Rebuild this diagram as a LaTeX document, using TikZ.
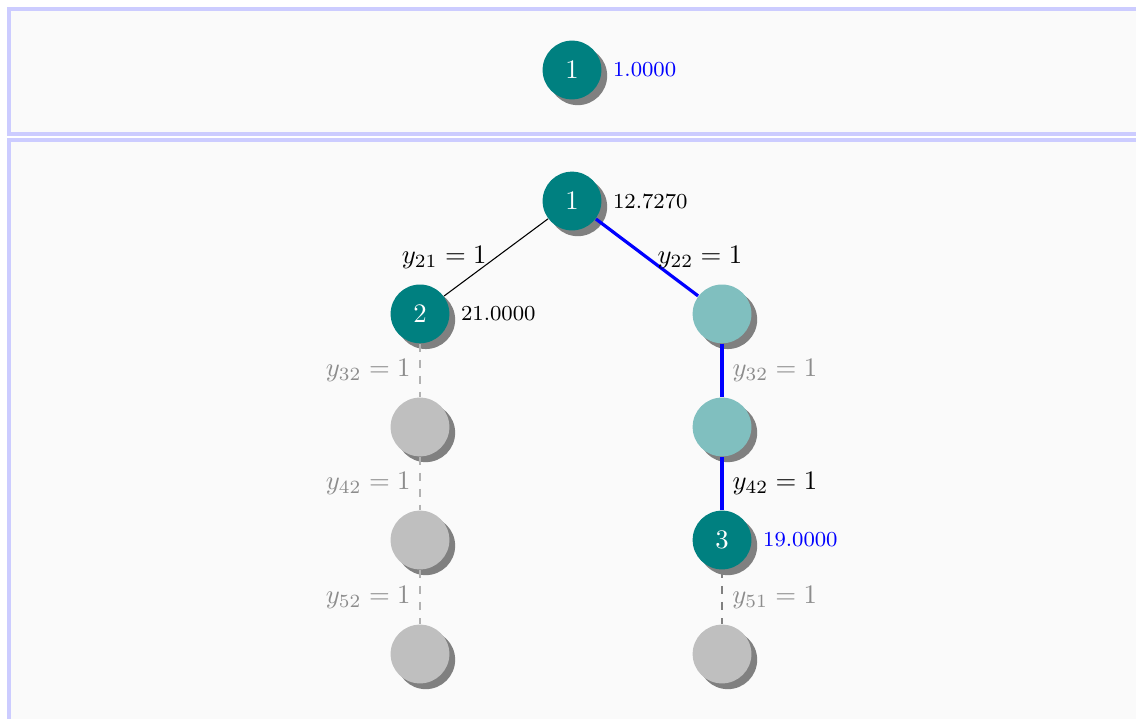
\documentclass[tikz,border=0pt]{standalone}
\usetikzlibrary{shadows, positioning}
\definecolor{PanelBlue}{HTML}{CCCCFF}
\definecolor{PanelFill}{HTML}{FAFAFA}
\definecolor{NodeTeal}{HTML}{008080}
\definecolor{NodeGray}{HTML}{BFBFBF}
\definecolor{LabelGray}{HTML}{8C8C8C}
\tikzset{
    % Panels
    panel/.style={
        rectangle,
        draw=PanelBlue,
        fill=PanelFill,
        line width=1.6pt
    },
    % Tree nodes
    tree node/.style={
        circle,
        minimum size=22pt,
        inner sep=0pt,
        drop shadow={opacity=1, fill=black!50},
        text=white
    },
    solved node/.style={
        tree node,
        fill=NodeTeal
    },
    open node/.style={
        tree node,
        fill=NodeTeal!50
    },
    pruned node/.style={
        tree node,
        fill=NodeGray
    },
    value label/.style={
        font=\footnotesize,
        inner sep=2pt
    },
    % Edges
    branch edge/.style={
        black
    },
    path edge/.style={
        very thick,
        blue
    },
    pruned edge/.style={
        dashed,
        gray!60
    },
    cut edge/.style={
        dashed,
        line width=1pt,
        gray
    },
    pruned label/.style={
        text=LabelGray
    }
}

\begin{document}
\begin{tikzpicture}
        \useasboundingbox (0, 0) rectangle (14.947, -9.447);
        \clip (0, 0) rectangle (14.947, -9.447);

        % Panels
        \node[panel, inner sep=0pt, minimum width=15.5cm, minimum height=1.645cm, anchor=north west] (toppanel) at (0.092, -0.092) {};
        \node[panel, inner sep=0pt, minimum width=15.5cm, minimum height=9cm, anchor=north west] (treepanel) at (0.092, -1.816) {};

        % Top panel node
        \node[solved node] (top1) at (7.526, -0.921) {1};
        \node[value label, text=blue, right=2pt of top1] (topval) {1.0000};

        % Root
        \node[solved node] (root) at (7.526, -2.645) {1};
        \node[value label, right=2pt of root] (rootval) {12.7270};

        % Left branch
        \node[solved node] (n2) at (5.526, -4.13) {2};
        \node[value label, right=2pt of n2] (n2val) {21.0000};
        \node[pruned node] (l3) at (5.526, -5.618) {};
        \node[pruned node] (l4) at (5.526, -7.105) {};
        \node[pruned node] (l5) at (5.526, -8.605) {};

        % Right branch
        \node[open node] (r2) at (9.5, -4.13) {};
        \node[open node] (r3) at (9.5, -5.618) {};
        \node[solved node] (n3) at (9.5, -7.105) {3};
        \node[value label, text=blue, right=2pt of n3] (n3val) {19.0000};
        \node[pruned node] (r5) at (9.5, -8.605) {};

        % Edges
        \draw[branch edge] (root) -- node[left] {$y_{21} = 1$} (n2);
        \draw[path edge] (root) -- node[right, text=black] {$y_{22} = 1$} (r2);
        \draw[pruned edge] (n2) -- node[left, pruned label] {$y_{32} = 1$} (l3);
        \draw[pruned edge] (l3) -- node[left, pruned label] {$y_{42} = 1$} (l4);
        \draw[pruned edge] (l4) -- node[left, pruned label] {$y_{52} = 1$} (l5);
        \draw[path edge] (r2) -- node[right, pruned label] {$y_{32} = 1$} (r3);
        \draw[path edge] (r3) -- node[right, text=black] {$y_{42} = 1$} (n3);
        \draw[cut edge] (n3) -- node[right, pruned label] {$y_{51} = 1$} (r5);
    \end{tikzpicture}
\end{document}
